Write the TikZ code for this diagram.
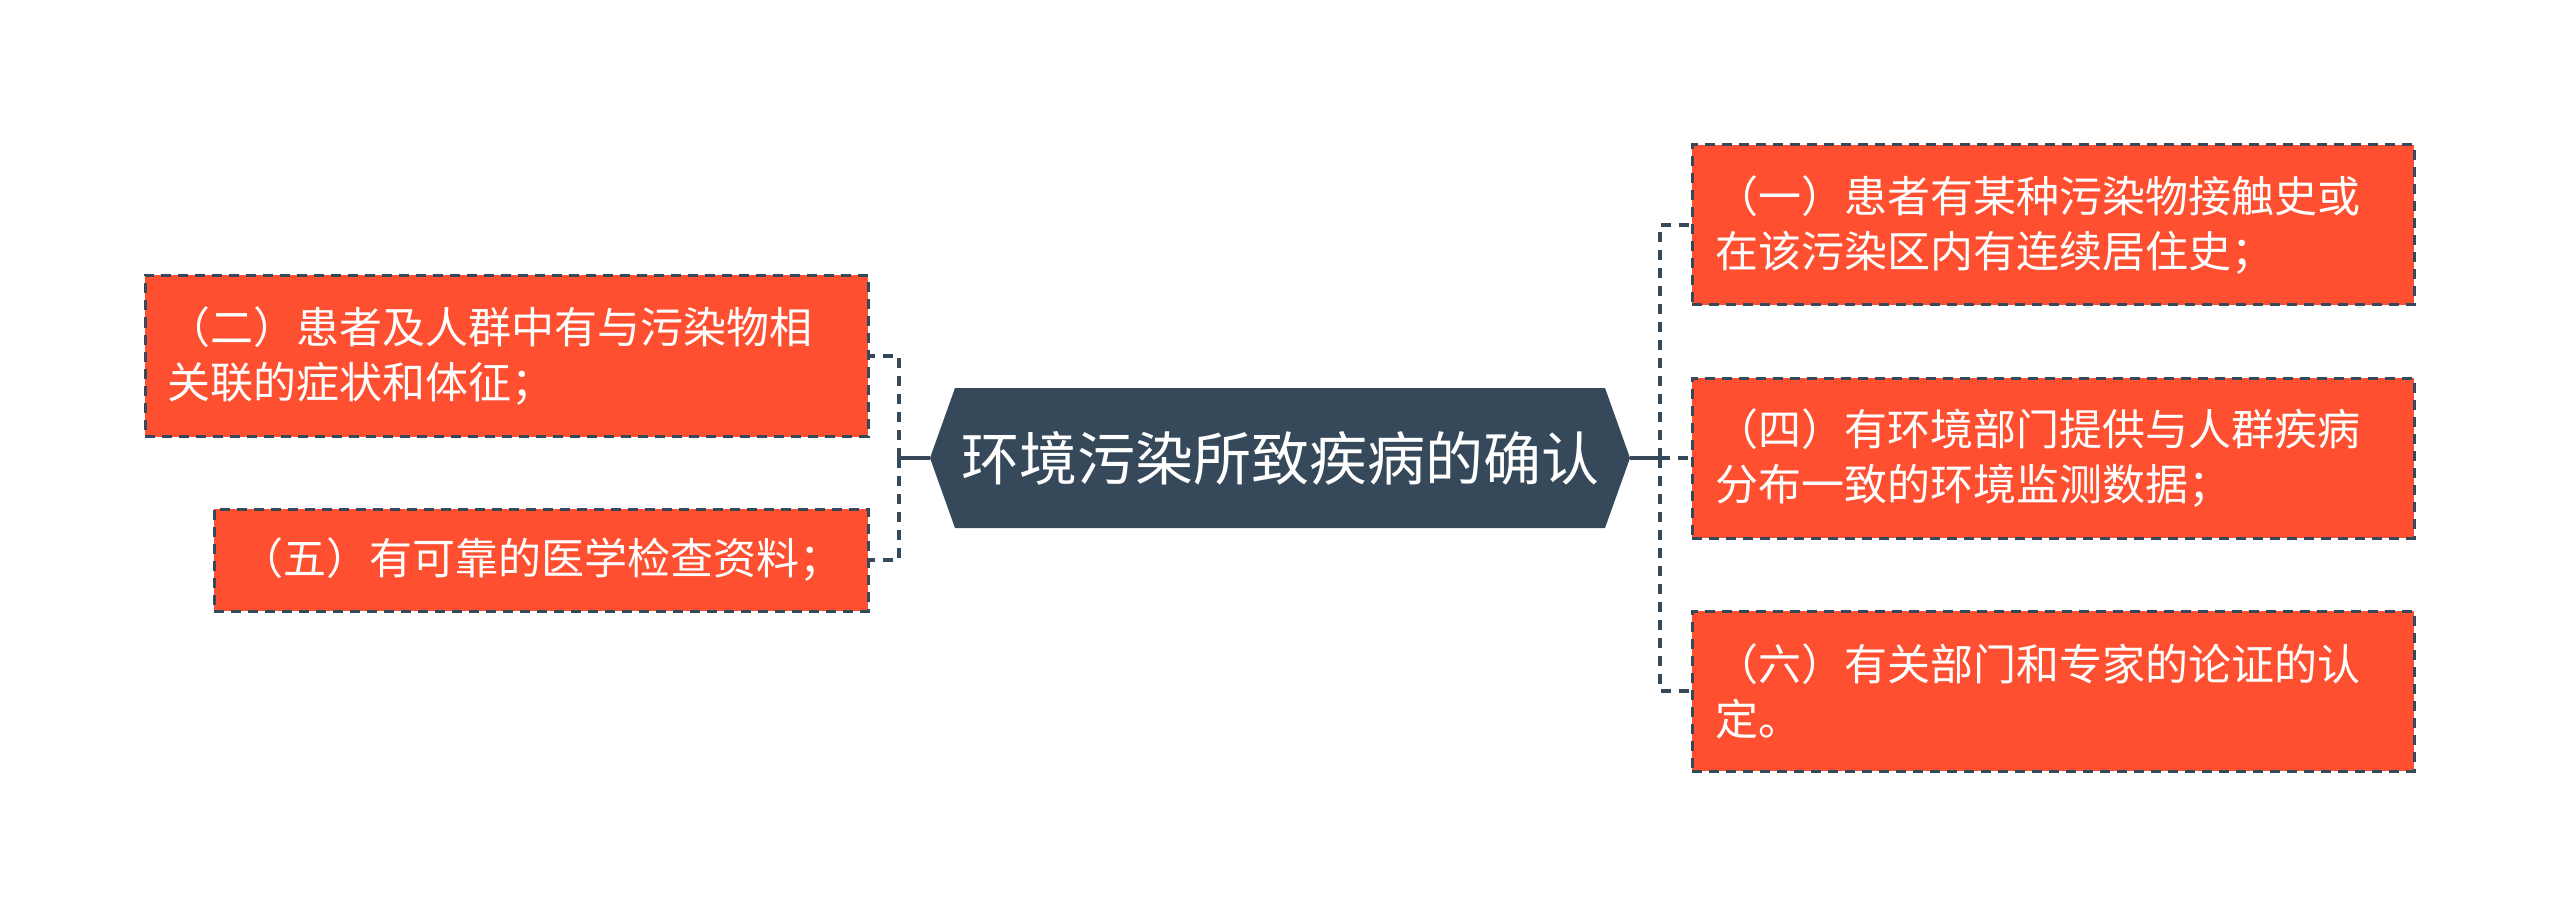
\documentclass[tikz,border=0pt]{standalone}
\usepackage{fontspec}
\setmainfont{Noto Sans CJK SC}
\definecolor{boxfill}{HTML}{FE5030}
\definecolor{darkc}{HTML}{36495A}
\begin{document}
\begin{tikzpicture}[x=1pt,y=-1pt,
  leaf/.style={draw=darkc, line width=3pt, dash pattern=on 10pt off 7pt, fill=boxfill,
    text=white, font=\fontsize{43}{55}\selectfont, align=left, inner ysep=0pt, anchor=center},
  conn/.style={draw=darkc, line width=4pt, dash pattern=on 10pt off 8pt},
  stub/.style={draw=darkc, line width=4pt}]
\useasboundingbox (0,0) rectangle (2560,917);
% central hexagon
\coordinate (hexL) at (930,458);
\coordinate (hexR) at (1630,458);
\fill[darkc] (hexL) -- (955,388) -- (1605,388) -- (hexR) -- (1605,528) -- (955,528) -- cycle;
\node[text=white, font=\fontsize{58}{70}\selectfont, inner sep=0pt] (c) at (1280,458) {环境污染所致疾病的确认};
% left boxes
\node[leaf, text width=679pt, inner xsep=22pt, minimum height=161pt] (b2) at (506.5,356)
  {（二）患者及人群中有与污染物相\\关联的症状和体征；};
\node[leaf, text width=602pt, inner xsep=26pt, minimum height=102pt] (b5) at (541,560)
  {（五）有可靠的医学检查资料；};
% right boxes
\node[leaf, text width=676pt, inner xsep=23pt, minimum height=160pt] (b1) at (2053,225)
  {（一）患者有某种污染物接触史或\\在该污染区内有连续居住史；};
\node[leaf, text width=676pt, inner xsep=23pt, minimum height=160pt] (b4) at (2053,458)
  {（四）有环境部门提供与人群疾病\\分布一致的环境监测数据；};
\node[leaf, text width=676pt, inner xsep=23pt, minimum height=160pt] (b6) at (2053,691)
  {（六）有关部门和专家的论证的认\\定。};
% connectors
\coordinate (Lt) at (899,458);
\coordinate (Rt) at (1660,458);
\draw[stub] (hexL) -- (Lt);
\draw[conn] (Lt) |- (b2.east);
\draw[conn] (Lt) |- (b5.east);
\draw[stub] (hexR) -- (Rt);
\draw[conn] (Rt) |- (b1.west);
\draw[conn] (Rt) |- (b4.west);
\draw[conn] (Rt) |- (b6.west);
\end{tikzpicture}
\end{document}
